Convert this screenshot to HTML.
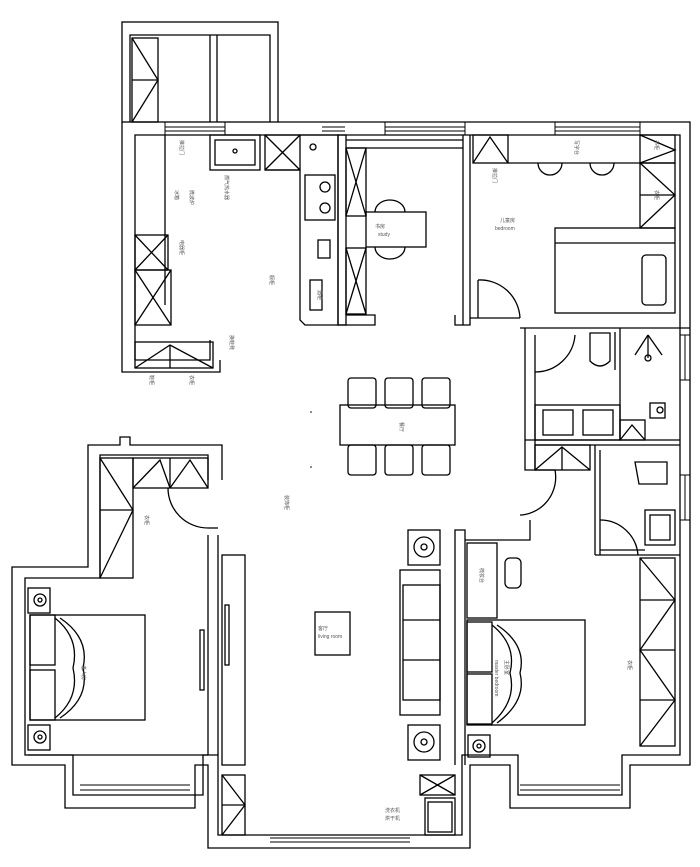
<!DOCTYPE html>
<html><head><meta charset="utf-8"><style>
html,body{margin:0;padding:0;background:#fff;}
svg{display:block}
text{font-family:"Liberation Sans","Noto Sans CJK SC",sans-serif;fill:#555;font-size:5px}
</style></head><body>
<svg width="700" height="867" viewBox="0 0 700 867" xmlns="http://www.w3.org/2000/svg">
<g fill="none" stroke="#000" stroke-width="1.3">
<rect x="122" y="22" width="156" height="100"/>
<polyline points="130,122 130,35 270,35 270,122"/>
<rect x="132" y="38" width="26" height="84"/>
<polyline points="132,38 158,80 132,122"/><line x1="132" y1="80" x2="158" y2="80"/>
<line x1="210" y1="35" x2="210" y2="122"/><line x1="217" y1="35" x2="217" y2="122"/>
<polyline points="278,122 690,122 690,765 630,765 630,808 510,808 510,765 470,765 470,848 208,848 208,765 195,765 195,808 65,808 65,765 12,765 12,567 88,567 88,445 120,445 120,437 130,437 130,445 222,445 222,480"/>
<polyline points="122,122 122,372 220,372 220,360"/>
<polyline points="135,360 135,135 680,135 680,755 622,755 622,795 518,795 518,755 462,755 462,835 218,835 218,755 203,755 203,795 73,795 73,755 25,755 25,578 100,578 100,455 208,455 208,480"/>
<polyline points="135,360 210,360 210,340"/>
<g stroke-width="1"><line x1="165" y1="127" x2="225" y2="127"/><line x1="165" y1="131" x2="225" y2="131"/>
<line x1="322" y1="127" x2="345" y2="127"/><line x1="322" y1="131" x2="345" y2="131"/>
<line x1="385" y1="127" x2="465" y2="127"/><line x1="385" y1="131" x2="465" y2="131"/>
<line x1="555" y1="127" x2="640" y2="127"/><line x1="555" y1="131" x2="640" y2="131"/>
<line x1="165" y1="122" x2="165" y2="135"/><line x1="225" y1="122" x2="225" y2="135"/>
<line x1="385" y1="122" x2="385" y2="135"/><line x1="465" y1="122" x2="465" y2="135"/>
<line x1="555" y1="122" x2="555" y2="135"/><line x1="640" y1="122" x2="640" y2="135"/>
<line x1="80" y1="785" x2="190" y2="785"/><line x1="80" y1="790" x2="190" y2="790"/>
<line x1="520" y1="785" x2="620" y2="785"/><line x1="520" y1="790" x2="620" y2="790"/>
<line x1="270" y1="838" x2="410" y2="838"/><line x1="270" y1="842" x2="410" y2="842"/>
<line x1="680" y1="335" x2="690" y2="335"/><line x1="685" y1="335" x2="685" y2="380"/><line x1="680" y1="380" x2="690" y2="380"/>
<line x1="680" y1="475" x2="690" y2="475"/><line x1="685" y1="475" x2="685" y2="520"/><line x1="680" y1="520" x2="690" y2="520"/>
</g>
<line x1="165" y1="135" x2="165" y2="305"/>
<rect x="135" y="235" width="33" height="35"/><polyline points="135,235 168,270"/><polyline points="168,235 135,270"/>
<rect x="135" y="270" width="36" height="55"/><polyline points="135,270 171,325"/><polyline points="171,270 135,325"/>
<rect x="135" y="342" width="78" height="26"/><polyline points="135,368 170,345 213,368"/><line x1="170" y1="345" x2="170" y2="368"/>
<rect x="210" y="135" width="50" height="35"/><rect x="215" y="140" width="40" height="25"/><circle cx="235" cy="151" r="2"/>
<rect x="265" y="135" width="35" height="35"/><line x1="265" y1="135" x2="300" y2="170"/><line x1="300" y1="135" x2="265" y2="170"/>
<polyline points="300,135 338,135 338,325 305,325 300,320 300,170 265,170"/>
<rect x="305" y="175" width="30" height="45"/><circle cx="325" cy="187" r="5"/><circle cx="325" cy="208" r="5"/>
<rect x="318" y="240" width="12" height="18"/><rect x="310" y="280" width="12" height="30"/>
<circle cx="313" cy="147" r="3"/>
<rect x="338" y="135" width="8" height="190"/>
<polyline points="346,140 463,140"/><line x1="346" y1="148" x2="463" y2="148"/>
<polyline points="338,325 375,325 375,315 346,315"/>
<polyline points="463,135 463,325 470,325 470,135"/>
<polyline points="455,315 455,325 463,325"/>
<rect x="346" y="148" width="20" height="68"/><polyline points="346,148 366,216"/><polyline points="366,148 346,216"/>
<rect x="346" y="248" width="20" height="66"/><polyline points="346,248 366,314"/><polyline points="366,248 346,314"/>
<rect x="366" y="212" width="60" height="35"/>
<path d="M375,212 A15,12 0 0 1 405,212"/><path d="M375,247 A15,12 0 0 0 405,247"/>
<rect x="473" y="135" width="35" height="28"/><polyline points="473,163 490,137 508,163"/>
<line x1="508" y1="163" x2="640" y2="163"/>
<path d="M538,163 A12,12 0 0 0 562,163"/><path d="M590,163 A12,12 0 0 0 614,163"/>
<rect x="640" y="135" width="35" height="28"/><polyline points="640,135 675,150 640,163"/>
<rect x="640" y="163" width="35" height="65"/><polyline points="640,163 675,195 640,228"/><line x1="640" y1="195" x2="675" y2="195"/>
<rect x="555" y="228" width="120" height="85"/><line x1="555" y1="243" x2="675" y2="243"/>
<rect x="642" y="255" width="24" height="50" rx="4"/>
<polyline points="520,328 690,328"/><polyline points="470,318 520,318"/>
<path d="M478,280 L478,318 M478,280 A40,40 0 0 1 520,318"/>
<polyline points="525,328 525,470 535,470 535,335"/>
<path d="M535,372 A40,40 0 0 0 575,335"/>
<line x1="620" y1="328" x2="620" y2="440"/>
<path d="M590,333 h20 v28 q-10,10 -20,0 z"/>
<line x1="615" y1="332" x2="615" y2="370"/>
<line x1="648" y1="335" x2="635" y2="355"/><line x1="648" y1="335" x2="662" y2="355"/><line x1="648" y1="335" x2="648" y2="358"/><circle cx="648" cy="358" r="3"/>
<rect x="535" y="405" width="85" height="35"/>
<rect x="543" y="410" width="30" height="25"/><rect x="583" y="410" width="30" height="25"/>
<rect x="620" y="420" width="25" height="20"/><polyline points="620,440 632,425 645,440"/>
<rect x="650" y="403" width="15" height="15"/><circle cx="660" cy="410" r="3"/>
<line x1="525" y1="440" x2="680" y2="440"/><line x1="535" y1="445" x2="680" y2="445"/>
<rect x="535" y="445" width="55" height="25"/><polyline points="535,470 562,447 590,470"/><line x1="562" y1="447" x2="562" y2="470"/>
<line x1="595" y1="445" x2="595" y2="555"/><line x1="600" y1="450" x2="600" y2="555"/>
<polyline points="595,555 680,555"/><polyline points="600,550 645,550"/>
<path d="M635,462 h32 v22 h-28 z"/>
<rect x="645" y="510" width="30" height="35"/><rect x="650" y="515" width="20" height="25"/>
<path d="M600,520 A38,38 0 0 1 638,555"/>
<path d="M535,470 L555,470 A38,38 0 0 1 522,515 L520,515"/>
<rect x="340" y="405" width="115" height="40"/>
<rect x="348" y="378" width="28" height="30" rx="3"/><rect x="385" y="378" width="28" height="30" rx="3"/><rect x="422" y="378" width="28" height="30" rx="3"/>
<rect x="348" y="445" width="28" height="30" rx="3"/><rect x="385" y="445" width="28" height="30" rx="3"/><rect x="422" y="445" width="28" height="30" rx="3"/>
<rect x="100" y="458" width="33" height="120"/><polyline points="100,458 133,510 100,578"/><line x1="100" y1="510" x2="133" y2="510"/>
<rect x="133" y="458" width="75" height="30"/><polyline points="133,488 160,460 170,488"/><line x1="170" y1="458" x2="170" y2="488"/><polyline points="170,488 190,460 208,488"/>
<path d="M168,488 A40,40 0 0 0 208,528"/><polyline points="208,528 218,528"/>
<line x1="208" y1="535" x2="208" y2="755"/><line x1="218" y1="535" x2="218" y2="755"/>
<rect x="222" y="555" width="23" height="210"/><rect x="225" y="605" width="4" height="60"/>
<rect x="200" y="630" width="4" height="60"/>
<rect x="28" y="588" width="22" height="25"/><circle cx="40" cy="600" r="6"/><circle cx="40" cy="600" r="2"/>
<rect x="28" y="725" width="22" height="25"/><circle cx="40" cy="737" r="6"/><circle cx="40" cy="737" r="2"/>
<rect x="30" y="615" width="115" height="105"/>
<rect x="30" y="615" width="25" height="50"/><rect x="30" y="670" width="25" height="50"/>
<path d="M55,618 q25,20 18,50 q7,30 -18,50"/><path d="M60,618 q30,20 23,50 q7,30 -23,50"/>
<line x1="28" y1="755" x2="208" y2="755"/>
<rect x="315" y="612" width="35" height="43"/>
<rect x="400" y="570" width="40" height="145"/><rect x="403" y="585" width="37" height="115"/>
<line x1="403" y1="620" x2="440" y2="620"/><line x1="403" y1="660" x2="440" y2="660"/>
<rect x="408" y="530" width="32" height="35"/><circle cx="424" cy="547" r="10"/><circle cx="424" cy="547" r="3"/>
<rect x="408" y="725" width="32" height="35"/><circle cx="424" cy="742" r="10"/><circle cx="424" cy="742" r="3"/>
<rect x="222" y="775" width="23" height="60"/><polyline points="222,775 245,805 222,835"/><line x1="222" y1="805" x2="245" y2="805"/>
<rect x="420" y="775" width="35" height="20"/><line x1="420" y1="775" x2="455" y2="795"/><line x1="455" y1="775" x2="420" y2="795"/>
<rect x="425" y="798" width="30" height="37"/><rect x="428" y="802" width="24" height="30"/>
<polyline points="455,765 455,530 465,530 465,765"/>
<polyline points="465,540 530,540 530,520"/>
<rect x="467" y="543" width="30" height="75"/>
<rect x="505" y="558" width="16" height="30" rx="5"/>
<rect x="467" y="620" width="118" height="105"/>
<rect x="467" y="622" width="25" height="50"/><rect x="467" y="674" width="25" height="50"/>
<path d="M492,625 q25,20 18,48 q7,28 -18,50"/><path d="M497,625 q30,20 23,48 q7,28 -23,50"/>
<rect x="468" y="735" width="22" height="22"/><circle cx="479" cy="746" r="6"/><circle cx="479" cy="746" r="2"/>
<rect x="640" y="558" width="35" height="188"/><polyline points="640,558 675,600 640,650 675,700 640,746"/>
<line x1="640" y1="600" x2="675" y2="600"/><line x1="640" y1="650" x2="675" y2="650"/><line x1="640" y1="700" x2="675" y2="700"/>
</g>
<g fill="#555">
<text x="375" y="228" font-size="6">书房</text><text x="378" y="236">study</text>
<text x="500" y="222" font-size="6">儿童房</text><text x="495" y="230">bedroom</text>
<text x="400" y="422" font-size="6" transform="rotate(90 400 422)">餐厅</text>
<text x="318" y="630" font-size="6">客厅</text><text x="318" y="638">living room</text>
<text x="82" y="665" font-size="6" transform="rotate(90 82 665)">老人房</text>
<text x="505" y="660" font-size="6" transform="rotate(90 505 660)">主卧室</text>
<text x="495" y="660" transform="rotate(90 495 660)">master bedroom</text>
<text x="385" y="812">洗衣机</text><text x="385" y="820">烘干机</text>
<text x="180" y="140" transform="rotate(90 180 140)">推拉门</text>
<text x="225" y="175" transform="rotate(90 225 175)">燃气热水器</text>
<text x="175" y="190" transform="rotate(90 175 190)">冰箱</text>
<text x="190" y="190" transform="rotate(90 190 190)">微波炉</text>
<text x="180" y="240" transform="rotate(90 180 240)">电器柜</text>
<text x="270" y="275" transform="rotate(90 270 275)">橱柜</text>
<text x="318" y="290" transform="rotate(90 318 290)">酒柜</text>
<text x="150" y="375" transform="rotate(90 150 375)">鞋柜</text>
<text x="190" y="375" transform="rotate(90 190 375)">衣柜</text>
<text x="230" y="335" transform="rotate(90 230 335)">换鞋凳</text>
<text x="493" y="168" transform="rotate(90 493 168)">推拉门</text>
<text x="575" y="140" transform="rotate(90 575 140)">写字台</text>
<text x="655" y="140" transform="rotate(90 655 140)">书柜</text>
<text x="655" y="190" transform="rotate(90 655 190)">衣柜</text>
<text x="145" y="515" transform="rotate(90 145 515)">衣柜</text>
<text x="285" y="495" transform="rotate(90 285 495)">装饰柜</text>
<text x="480" y="568" transform="rotate(90 480 568)">梳妆台</text>
<text x="628" y="660" transform="rotate(90 628 660)">衣柜</text>
</g>
<g fill="#000"><circle cx="311" cy="467" r="0.8"/><circle cx="311" cy="412" r="0.8"/></g>
</svg>
</body></html>
